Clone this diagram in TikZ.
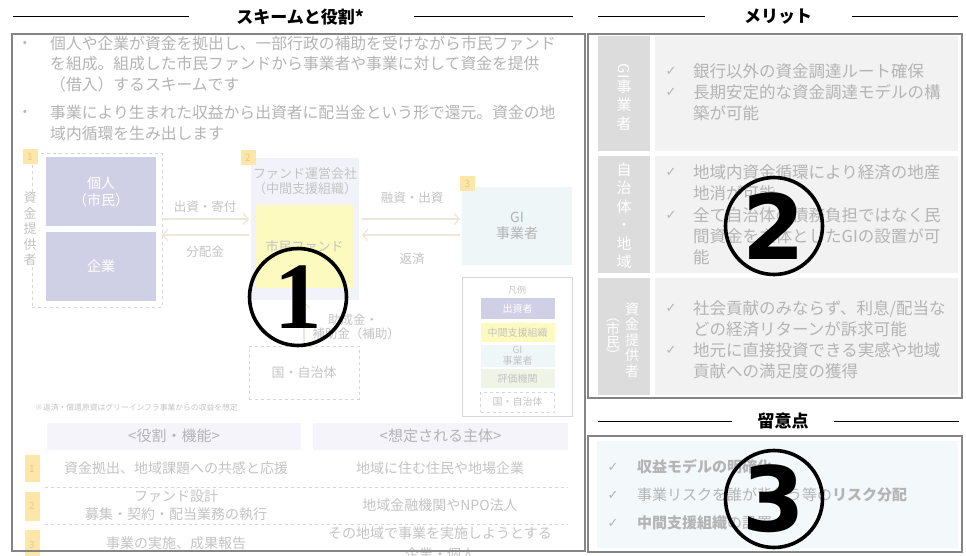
\documentclass[tikz,border=0pt]{standalone}
\usepackage{fontspec}
\setmainfont{Noto Sans CJK JP}
\newfontfamily\dejavu{DejaVu Sans}
\newfontfamily\serifnum{Liberation Serif}
\usetikzlibrary{arrows.meta}

\definecolor{txt}{HTML}{B4B4B4}
\definecolor{ltxt}{HTML}{C4C4C4}
\definecolor{bordr}{HTML}{858585}
\definecolor{lav}{HTML}{CFCFE6}
\definecolor{ylab}{HTML}{FCE7A8}
\definecolor{ylabtxt}{HTML}{E6CB88}
\definecolor{fundbg}{HTML}{F2F2FA}
\definecolor{fundy}{HTML}{FDFABF}
\definecolor{gibg}{HTML}{EEF6F8}
\definecolor{evalbg}{HTML}{EEF5E6}
\definecolor{headbg}{HTML}{F4F4FA}
\definecolor{arrowc}{HTML}{F1E5D6}
\definecolor{dashc}{HTML}{D6D6D6}
\definecolor{labcol}{HTML}{DCDCDC}
\definecolor{contbg}{HTML}{F2F2F2}
\definecolor{notebg}{HTML}{F3F9FA}

\tikzset{
  titletext/.style={font=\bfseries\fontsize{17}{19}\selectfont, text=black, inner sep=0pt},
  titleline/.style={line width=1pt, black},
  panel/.style={draw=bordr, line width=2pt},
  bodytext/.style={text=txt, font=\fontsize{15.8}{20.5}\selectfont, anchor=west, inner sep=0pt, align=left},
  dot/.style={text=txt, font=\fontsize{12}{14}\selectfont, inner sep=0pt},
  numlab/.style={fill=ylab, text=ylabtxt, font=\fontsize{10}{12}\selectfont, inner sep=0pt, minimum width=15pt},
  flow/.style={draw=arrowc, line width=1.2pt, -{Straight Barb[length=5pt,width=11pt]}},
  dbox/.style={draw=dashc, dashed, line width=0.8pt},
  lavbox/.style={fill=lav, text=white, font=\fontsize{14}{17}\selectfont, align=center, inner sep=0pt, minimum width=110pt, minimum height=69pt},
  dlabel/.style={text=ltxt, font=\fontsize{12.5}{14.5}\selectfont, align=center, inner sep=0pt},
  legitem/.style={text=white, font=\fontsize{10}{11}\selectfont, align=center, inner sep=0pt, minimum width=74pt},
  headbox/.style={fill=headbg, text=txt, font=\fontsize{15}{17}\selectfont, inner sep=0pt},
  tabtext/.style={text=ltxt, font=\fontsize{14}{18}\selectfont, align=center, inner sep=0pt},
  vlab/.style={text=white, font=\fontsize{15}{18.5}\selectfont, align=center, inner sep=0pt},
  chk/.style={text=txt, font=\dejavu\fontsize{13}{15}\selectfont, inner sep=0pt},
  rtext/.style={text=txt, font=\fontsize{16.5}{21}\selectfont, anchor=west, align=left, inner sep=0pt},
  ntext/.style={text=txt, font=\fontsize{15}{18}\selectfont, anchor=west, inner sep=0pt},
  bigcirc/.style={draw=black, line width=3.6pt, circle, minimum size=97pt, inner sep=0pt}
}

\begin{document}
\begin{tikzpicture}[x=1pt,y=-1pt]
\useasboundingbox (0,0) rectangle (966,556);
\fill[white] (0,0) rectangle (966,556);

% ---------- titles ----------
\node[titletext] (t1) at (300,17) {スキームと役割*};
\draw[titleline] (13,17) -- (189,17);
\draw[titleline] (414,17) -- (573,17);
\node[titletext] (t2) at (778,17) {メリット};
\draw[titleline] (598,17) -- (705,17);
\draw[titleline] (852,17) -- (958,17);
\node[titletext] (t3) at (783,421) {留意点};
\draw[titleline] (598,421) -- (732,421);
\draw[titleline] (834,421) -- (959,421);

% ---------- left: bullets ----------
\node[dot] (b1) at (25,44) {•};
\node[bodytext] (bt1) at (50,64) {個人や企業が資金を拠出し、一部行政の補助を受けながら市民ファンド\\を組成。組成した市民ファンドから事業者や事業に対して資金を提供\\（借入）するスキームです};
\node[dot] (b2) at (25,113) {•};
\node[bodytext] (bt2) at (50,123) {事業により生まれた収益から出資者に配当金という形で還元。資金の地\\域内循環を生み出します};

% ---------- left: diagram ----------
\node[dbox, minimum width=130pt, minimum height=154pt] (prov) at (97,230) {};
\node[numlab, minimum height=15pt] (n1) at (30,156.5) {1};
\node[text=ltxt, font=\fontsize{13}{15.5}\selectfont, align=center, inner sep=0pt, fill=white] (provlab) at (30,229) {資\\金\\提\\供\\者};
\node[lavbox] (kojin) at (101,191.5) {個人\\（市民）};
\node[lavbox] (kigyo) at (101,266.5) {企業};

\node[fill=fundbg, minimum width=108pt, minimum height=142pt, inner sep=0pt] (fund) at (305,229) {};
\node[dlabel, font=\fontsize{13}{15}\selectfont] (fundt) at (305,181) {ファンド運営会社\\（中間支援組織）};
\node[fill=fundy, minimum width=97pt, minimum height=83pt, inner sep=0pt, text=ltxt, font=\fontsize{13}{15}\selectfont] (fundy) at (304.5,246.5) {市民ファンド};
\node[numlab, minimum height=15pt] (n2) at (248,157.5) {2};

\node[fill=gibg, minimum width=110pt, minimum height=78pt, inner sep=0pt, text=txt, font=\fontsize{14}{16.5}\selectfont, align=center] (gi) at (517,226) {GI\\事業者};
\node[numlab, minimum height=15pt] (n3) at (467.5,183.5) {3};

\node[dbox, minimum width=110pt, minimum height=53pt, text=ltxt, font=\fontsize{13}{15}\selectfont] (kuni) at (304,372.5) {国・自治体};

\coordinate (a1s) at (162,219); \coordinate (a1e) at (249,219);
\coordinate (a2s) at (249,235); \coordinate (a2e) at (162,235);
\coordinate (a3s) at (362,219); \coordinate (a3e) at (460,219);
\coordinate (a4s) at (460,235); \coordinate (a4e) at (362,235);
\coordinate (a5s) at (304,345); \coordinate (a5e) at (304,302);
\draw[flow] (a1s) -- (a1e);
\draw[flow] (a2s) -- (a2e);
\draw[flow] (a3s) -- (a3e);
\draw[flow] (a4s) -- (a4e);
\draw[flow] (a5s) -- (a5e);

\node[dlabel] (l1) at (205,207) {出資・寄付};
\node[dlabel] (l2) at (205,252) {分配金};
\node[dlabel] (l3) at (412,198) {融資・出資};
\node[dlabel] (l4) at (412,259) {返済};
\node[dlabel] (l5) at (356,327) {\hspace*{-6pt}助成金・\\補助金（補助）};

% legend
\node[draw=dashc, line width=1pt, minimum width=110pt, minimum height=139pt, inner sep=0pt] (leg) at (517,346.5) {};
\node[text=ltxt, font=\itshape\fontsize{9}{10}\selectfont, inner sep=0pt] (legt) at (517,290) {凡例};
\node[legitem, fill=lav, minimum height=21pt] (lg1) at (517.5,308.5) {出資者};
\node[legitem, fill=fundy, text=ltxt, minimum height=19pt] (lg2) at (517.5,332.5) {中間支援組織};
\node[legitem, fill=gibg, text=ltxt, minimum height=22pt] (lg3) at (517.5,356) {GI\\事業者};
\node[legitem, fill=evalbg, text=ltxt, minimum height=19pt] (lg4) at (517.5,378.5) {評価機関};
\node[legitem, dbox, text=ltxt, minimum height=20pt] (lg5) at (517.5,402) {国・自治体};

\node[text=ltxt, font=\fontsize{7.8}{9}\selectfont, anchor=west, inner sep=0pt] (foot) at (35,408) {※返済・償還原資はグリーインフラ事業からの収益を想定};

% ---------- left: table ----------
\node[headbox, minimum width=254pt, minimum height=27pt] (h1) at (174,436) {<役割・機能>};
\node[headbox, minimum width=255pt, minimum height=27pt] (h2) at (440.5,436) {<想定される主体>};

\node[numlab, minimum height=27pt] (r1) at (32,468.5) {1};
\node[tabtext] (r1a) at (176,468) {資金拠出、地域課題への共感と応援};
\node[tabtext] (r1b) at (440,468) {地域に住む住民や地場企業};
\draw[dashc, dashed, line width=0.8pt] (45,487) -- (568,487);
\node[numlab, minimum height=29pt] (r2) at (32,506) {2};
\node[tabtext] (r2a) at (176,505) {ファンド設計\\募集・契約・配当業務の執行};
\node[tabtext] (r2b) at (440,505) {地域金融機関やNPO法人};
\draw[dashc, dashed, line width=0.8pt] (45,524) -- (568,524);
\node[numlab, minimum height=30pt] (r3) at (32,545) {3};
\node[tabtext] (r3a) at (176,543) {事業の実施、成果報告};
\node[tabtext, font=\fontsize{14}{21}\selectfont] (r3b) at (440,544) {その地域で事業を実施しようとする\\企業・個人};

% left panel border
\draw[panel] (12,34) rectangle (585,551);

% ---------- right: merits ----------
\fill[labcol] (598,36) rectangle (650,151);
\fill[contbg] (655,36) rectangle (958,151);
\fill[labcol] (598,156) rectangle (650,273);
\fill[contbg] (655,156) rectangle (958,273);
\fill[labcol] (598,278) rectangle (650,395);
\fill[contbg] (655,278) rectangle (958,395);

\node[vlab] (v1) at (624,97) {\rotatebox{-90}{GI}\\事\\業\\者};
\node[vlab] (v2) at (624,216) {自\\治\\体\\・\\地\\域};
\node[vlab, font=\fontsize{14}{15.5}\selectfont] (v3a) at (632,340) {資\\金\\提\\供\\者};
\node[vlab, font=\fontsize{14}{13}\selectfont] (v3b) at (613,340) {︵\\市\\民\\︶};

\node[chk] (c1a) at (671,71) {✓};
\node[rtext] (m1a) at (693,71) {銀行以外の資金調達ルート確保};
\node[chk] (c1b) at (671,92) {✓};
\node[rtext] (m1b) at (693,102.5) {長期安定的な資金調達モデルの構\\築が可能};

\node[chk] (c2a) at (671,172) {✓};
\node[rtext] (m2a) at (693,182.5) {地域内資金循環により経済の地産\\地消が可能};
\node[chk] (c2b) at (671,215) {✓};
\node[rtext] (m2b) at (693,236) {全て自治体の債務負担ではなく民\\間資金を主体としたGIの設置が可\\能};

\node[chk] (c3a) at (671,308) {✓};
\node[rtext] (m3a) at (693,318.5) {社会貢献のみならず、利息/配当な\\どの経済リターンが訴求可能};
\node[chk] (c3b) at (671,350) {✓};
\node[rtext] (m3b) at (693,360.5) {地元に直接投資できる実感や地域\\貢献への満足度の獲得};

\draw[panel] (588,34) rectangle (962,398);

% ---------- right: notes ----------
\fill[notebg] (597,441) rectangle (958,548);
\node[chk] (k1) at (613,467) {✓};
\node[ntext] (p1) at (637,467) {\bfseries 収益モデルの明確化};
\node[chk] (k2) at (613,495) {✓};
\node[ntext] (p2) at (637,495) {事業リスクを誰が背負う等の{\bfseries リスク分配}};
\node[chk] (k3) at (613,523) {✓};
\node[ntext] (p3) at (637,523) {{\bfseries 中間支援組織}の設置};
\draw[panel] (588,436) rectangle (962,552);

% ---------- circled numbers ----------
\node[bigcirc, font=\serifnum\bfseries\fontsize{95}{95}\selectfont] (cn1) at (298,297) {1};
\node[bigcirc, font=\dejavu\bfseries\fontsize{90}{90}\selectfont] (cn2) at (774,226) {2};
\node[bigcirc, font=\dejavu\bfseries\fontsize{90}{90}\selectfont] (cn3) at (774,499) {3};
\end{tikzpicture}
\end{document}
